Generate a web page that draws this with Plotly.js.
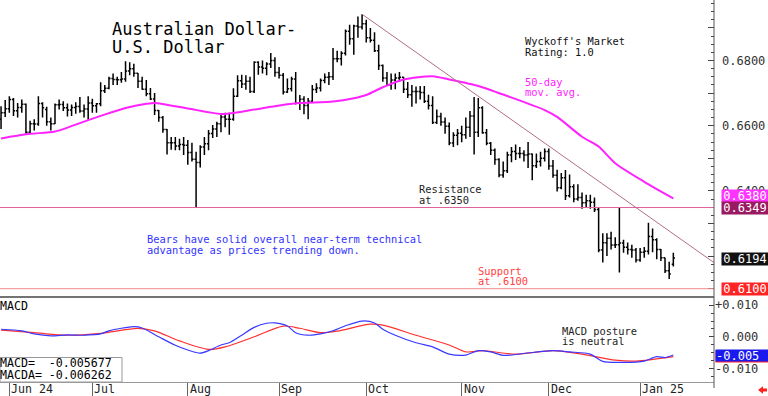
<!DOCTYPE html>
<html><head><meta charset="utf-8">
<script src="https://cdn.plot.ly/plotly-3.0.1.min.js"></script>
<style>html,body{margin:0;padding:0;background:#fff}#chart{width:768px;height:396px}</style>
</head><body><div id="chart"></div>
<script>
// ---------- daily bars (weekdays) ----------
const barDates = [
'2024-05-30','2024-05-31',
'2024-06-03','2024-06-04','2024-06-05','2024-06-06','2024-06-07','2024-06-10','2024-06-11','2024-06-12','2024-06-13','2024-06-14','2024-06-17','2024-06-18','2024-06-19','2024-06-20','2024-06-21','2024-06-24','2024-06-25','2024-06-26','2024-06-27','2024-06-28',
'2024-07-01','2024-07-02','2024-07-03','2024-07-04','2024-07-05','2024-07-08','2024-07-09','2024-07-10','2024-07-11','2024-07-12','2024-07-15','2024-07-16','2024-07-17','2024-07-18','2024-07-19','2024-07-22','2024-07-23','2024-07-24','2024-07-25','2024-07-26','2024-07-29','2024-07-30','2024-07-31',
'2024-08-01','2024-08-02','2024-08-05','2024-08-06','2024-08-07','2024-08-08','2024-08-09','2024-08-12','2024-08-13','2024-08-14','2024-08-15','2024-08-16','2024-08-19','2024-08-20','2024-08-21','2024-08-22','2024-08-23','2024-08-26','2024-08-27','2024-08-28','2024-08-29','2024-08-30',
'2024-09-02','2024-09-03','2024-09-04','2024-09-05','2024-09-06','2024-09-09','2024-09-10','2024-09-11','2024-09-12','2024-09-13','2024-09-16','2024-09-17','2024-09-18','2024-09-19','2024-09-20','2024-09-23','2024-09-24','2024-09-25','2024-09-26','2024-09-27','2024-09-30',
'2024-10-01','2024-10-02','2024-10-03','2024-10-04','2024-10-07','2024-10-08','2024-10-09','2024-10-10','2024-10-11','2024-10-14','2024-10-15','2024-10-16','2024-10-17','2024-10-18','2024-10-21','2024-10-22','2024-10-23','2024-10-24','2024-10-25','2024-10-28','2024-10-29','2024-10-30','2024-10-31',
'2024-11-01','2024-11-04','2024-11-05','2024-11-06','2024-11-07','2024-11-08','2024-11-11','2024-11-12','2024-11-13','2024-11-14','2024-11-15','2024-11-18','2024-11-19','2024-11-20','2024-11-21','2024-11-22','2024-11-25','2024-11-26','2024-11-27','2024-11-28','2024-11-29',
'2024-12-02','2024-12-03','2024-12-04','2024-12-05','2024-12-06','2024-12-09','2024-12-10','2024-12-11','2024-12-12','2024-12-13','2024-12-16','2024-12-17','2024-12-18','2024-12-19','2024-12-20','2024-12-23','2024-12-24','2024-12-25','2024-12-26','2024-12-27','2024-12-30','2024-12-31',
'2025-01-01','2025-01-02','2025-01-03','2025-01-06','2025-01-07','2025-01-08','2025-01-09','2025-01-10','2025-01-13'];

const barOpen = [
0.6620,0.6640,
0.6652,0.6680,0.6646,0.6656,0.6666,0.6580,0.6606,0.6605,0.6668,0.6650,0.6612,0.6606,0.6664,0.6665,0.6655,0.6648,0.6656,0.6659,0.6645,0.6651,
0.6670,0.6661,0.6667,0.6707,0.6715,0.6745,0.6742,0.6741,0.6743,0.6768,0.6775,0.6761,0.6736,0.6712,0.6698,0.6682,0.6647,0.6625,0.6588,0.6548,0.6548,0.6538,0.6542,
0.6540,0.6518,0.6497,0.6487,0.6535,0.6545,0.6576,0.6590,0.6606,0.6627,0.6620,0.6620,0.6690,0.6738,0.6728,0.6736,0.6705,0.6795,0.6780,0.6776,0.6789,0.6800,
0.6763,0.6755,0.6703,0.6713,0.6743,0.6670,0.6681,0.6662,0.6675,0.6711,0.6716,0.6739,0.6749,0.6750,0.6805,0.6805,0.6822,0.6890,0.6867,0.6906,0.6903,
0.6913,0.6870,0.6862,0.6830,0.6785,0.6746,0.6725,0.6740,0.6746,0.6749,0.6712,0.6695,0.6705,0.6705,0.6702,0.6675,0.6662,0.6610,0.6628,0.6611,0.6598,0.6547,0.6571,
0.6577,0.6572,0.6595,0.6630,0.6580,0.6655,0.6578,0.6546,0.6525,0.6496,0.6449,0.6462,0.6510,0.6521,0.6515,0.6515,0.6510,0.6513,0.6477,0.6490,0.6500,
0.6521,0.6476,0.6448,0.6410,0.6440,0.6385,0.6413,0.6375,0.6380,0.6364,0.6370,0.6365,0.6343,0.6219,0.6241,0.6255,0.6234,0.6235,0.6240,0.6227,0.6220,0.6219,
0.6188,0.6212,0.6215,0.6260,0.6250,0.6220,0.6195,0.6155,0.6175];

const barHigh = [
0.6660,0.6679,
0.6690,0.6685,0.6670,0.6680,0.6668,0.6615,0.6620,0.6690,0.6672,0.6658,0.6625,0.6668,0.6680,0.6675,0.6668,0.6665,0.6672,0.6688,0.6665,0.6690,
0.6683,0.6670,0.6733,0.6725,0.6750,0.6760,0.6750,0.6765,0.6798,0.6795,0.6790,0.6762,0.6750,0.6740,0.6716,0.6700,0.6648,0.6630,0.6590,0.6565,0.6565,0.6560,0.6565,
0.6556,0.6548,0.6520,0.6540,0.6565,0.6587,0.6602,0.6612,0.6633,0.6640,0.6640,0.6715,0.6755,0.6756,0.6755,0.6750,0.6798,0.6798,0.6800,0.6795,0.6823,0.6810,
0.6780,0.6762,0.6745,0.6750,0.6765,0.6694,0.6690,0.6685,0.6725,0.6730,0.6745,0.6760,0.6765,0.6838,0.6830,0.6828,0.6895,0.6910,0.6910,0.6935,0.6942,
0.6925,0.6900,0.6887,0.6848,0.6788,0.6765,0.6760,0.6760,0.6765,0.6750,0.6734,0.6725,0.6720,0.6722,0.6722,0.6695,0.6690,0.6650,0.6640,0.6625,0.6610,0.6580,0.6590,
0.6600,0.6625,0.6645,0.6688,0.6685,0.6660,0.6590,0.6550,0.6530,0.6500,0.6490,0.6520,0.6535,0.6542,0.6535,0.6525,0.6550,0.6515,0.6515,0.6520,0.6530,
0.6530,0.6495,0.6465,0.6455,0.6464,0.6450,0.6420,0.6420,0.6395,0.6388,0.6388,0.6380,0.6350,0.6270,0.6270,0.6275,0.6258,0.6350,0.6250,0.6242,0.6235,0.6225,
0.6225,0.6228,0.6302,0.6285,0.6255,0.6222,0.6195,0.6183,0.6210];

const barLow = [
0.6590,0.6627,
0.6640,0.6630,0.6625,0.6640,0.6575,0.6575,0.6585,0.6600,0.6625,0.6600,0.6585,0.6605,0.6650,0.6645,0.6628,0.6630,0.6637,0.6640,0.6625,0.6618,
0.6640,0.6640,0.6660,0.6700,0.6712,0.6725,0.6725,0.6732,0.6735,0.6755,0.6750,0.6716,0.6710,0.6690,0.6679,0.6633,0.6612,0.6578,0.6512,0.6526,0.6525,0.6525,0.6510,
0.6480,0.6490,0.6348,0.6472,0.6510,0.6525,0.6562,0.6565,0.6580,0.6595,0.6572,0.6615,0.6688,0.6716,0.6710,0.6700,0.6700,0.6756,0.6760,0.6755,0.6777,0.6750,
0.6745,0.6696,0.6700,0.6705,0.6665,0.6648,0.6635,0.6620,0.6670,0.6700,0.6705,0.6730,0.6725,0.6740,0.6795,0.6785,0.6815,0.6848,0.6818,0.6870,0.6895,
0.6855,0.6855,0.6826,0.6771,0.6735,0.6722,0.6710,0.6712,0.6735,0.6700,0.6685,0.6658,0.6668,0.6680,0.6670,0.6650,0.6605,0.6605,0.6600,0.6575,0.6540,0.6535,0.6540,
0.6549,0.6560,0.6565,0.6512,0.6565,0.6575,0.6540,0.6510,0.6480,0.6442,0.6440,0.6455,0.6488,0.6495,0.6500,0.6490,0.6470,0.6433,0.6470,0.6475,0.6490,
0.6465,0.6440,0.6398,0.6405,0.6372,0.6380,0.6365,0.6370,0.6345,0.6350,0.6345,0.6335,0.6212,0.6180,0.6200,0.6220,0.6225,0.6150,0.6210,0.6205,0.6195,0.6180,
0.6183,0.6195,0.6205,0.6212,0.6190,0.6185,0.6148,0.6130,0.6168];

const barClose = [
0.6640,0.6652,
0.6680,0.6646,0.6656,0.6666,0.6580,0.6606,0.6605,0.6668,0.6655,0.6612,0.6606,0.6664,0.6665,0.6655,0.6648,0.6656,0.6659,0.6645,0.6651,0.6670,
0.6661,0.6667,0.6707,0.6715,0.6745,0.6742,0.6741,0.6743,0.6768,0.6775,0.6761,0.6736,0.6712,0.6698,0.6682,0.6647,0.6625,0.6588,0.6548,0.6548,0.6538,0.6542,0.6540,
0.6518,0.6497,0.6487,0.6535,0.6545,0.6576,0.6590,0.6606,0.6627,0.6620,0.6620,0.6690,0.6738,0.6728,0.6736,0.6705,0.6795,0.6780,0.6776,0.6789,0.6800,0.6763,
0.6755,0.6703,0.6713,0.6743,0.6670,0.6681,0.6662,0.6675,0.6711,0.6716,0.6739,0.6749,0.6750,0.6805,0.6805,0.6822,0.6890,0.6867,0.6906,0.6903,0.6913,
0.6870,0.6862,0.6830,0.6785,0.6746,0.6725,0.6740,0.6746,0.6749,0.6712,0.6695,0.6705,0.6705,0.6702,0.6675,0.6662,0.6610,0.6628,0.6611,0.6598,0.6547,0.6571,0.6577,
0.6572,0.6595,0.6630,0.6580,0.6655,0.6578,0.6546,0.6525,0.6496,0.6449,0.6462,0.6510,0.6521,0.6515,0.6515,0.6510,0.6513,0.6477,0.6490,0.6500,0.6521,
0.6476,0.6448,0.6410,0.6440,0.6385,0.6413,0.6375,0.6380,0.6364,0.6370,0.6365,0.6343,0.6219,0.6241,0.6255,0.6234,0.6235,0.6240,0.6227,0.6220,0.6219,0.6188,
0.6212,0.6215,0.6260,0.6250,0.6220,0.6195,0.6155,0.6145,0.6194];

// ---------- 50-day moving average ----------
const maDates = ['2024-05-30','2024-06-10','2024-06-18','2024-06-28','2024-07-03','2024-07-11','2024-07-18','2024-07-22','2024-08-01','2024-08-13','2024-08-21','2024-08-29','2024-09-06','2024-09-19','2024-09-26','2024-10-01','2024-10-07','2024-10-14','2024-10-23','2024-10-29','2024-11-07','2024-11-18','2024-11-29','2024-12-04','2024-12-12','2024-12-18','2024-12-24','2025-01-02','2025-01-13'];
const maValues = [0.6561,0.6575,0.6582,0.6617,0.6630,0.6654,0.6667,0.6670,0.6653,0.6636,0.6645,0.6658,0.6669,0.6674,0.6684,0.6694,0.6718,0.6742,0.6752,0.6742,0.6722,0.6691,0.6648,0.6627,0.6566,0.6536,0.6485,0.6428,0.6377];

// ---------- MACD (blue) and signal (red) ----------
const macdDates = ['2024-05-30','2024-06-06','2024-06-11','2024-06-17','2024-06-21','2024-06-27','2024-07-03','2024-07-05','2024-07-15','2024-07-17','2024-07-23','2024-07-29','2024-08-01','2024-08-06','2024-08-08','2024-08-13','2024-08-15','2024-08-20','2024-08-23','2024-08-28','2024-08-30','2024-09-04','2024-09-06','2024-09-11','2024-09-16','2024-09-19','2024-09-24','2024-09-30','2024-10-03','2024-10-07','2024-10-10','2024-10-17','2024-10-23','2024-10-29','2024-11-04','2024-11-07','2024-11-12','2024-11-15','2024-11-22','2024-12-03','2024-12-09','2024-12-16','2024-12-19','2024-12-26','2025-01-02','2025-01-07','2025-01-09','2025-01-13'];
const macdValues = [0.0024,0.0019,0.0009,0.0003,0.0006,0.0005,0.0009,0.0019,0.0032,0.0028,0.0000,-0.0027,-0.0042,-0.0052,-0.0044,-0.0026,-0.0019,0.0005,0.0030,0.0043,0.0044,0.0034,0.0013,0.0005,0.0009,0.0019,0.0035,0.0050,0.0044,0.0024,0.0005,-0.0019,-0.0032,-0.0055,-0.0058,-0.0044,-0.0048,-0.0059,-0.0053,-0.0044,-0.0048,-0.0055,-0.0078,-0.0081,-0.0077,-0.0063,-0.0066,-0.0058];
const signalDates = ['2024-05-30','2024-06-11','2024-06-21','2024-07-03','2024-07-16','2024-07-22','2024-07-30','2024-08-08','2024-08-14','2024-08-23','2024-09-03','2024-09-09','2024-09-16','2024-09-20','2024-10-02','2024-10-07','2024-10-17','2024-10-29','2024-11-04','2024-11-08','2024-11-20','2024-12-03','2024-12-12','2024-12-24','2024-12-31','2025-01-13'];
const signalValues = [0.0021,0.0013,0.0005,0.0011,0.0027,0.0019,-0.0013,-0.0040,-0.0032,0.0000,0.0034,0.0027,0.0013,0.0018,0.0040,0.0037,0.0005,-0.0026,-0.0048,-0.0044,-0.0055,-0.0044,-0.0055,-0.0074,-0.0077,-0.0063];

// ---------- trend line, levels, ticks ----------
const trendDates = ['2024-09-30','2025-01-24 19:12'];
const trendValues = [0.6942,0.6180];
const resistanceLevel = 0.6349;
const supportLevel = 0.6100;
const monthTicks = ['2024-06-03','2024-07-01','2024-08-01','2024-09-02','2024-10-01','2024-11-01','2024-12-02','2025-01-01'];
const monthLabels = ['Jun 24','Jul','Aug','Sep','Oct','Nov','Dec','Jan 25'];
const priceTickVals = [0.61,0.62,0.63,0.64,0.65,0.66,0.67,0.68,0.69];
const priceTickText = ['','','','0.6400','','0.6600','','0.6800',''];
const macdTickVals = [-0.01,0,0.01];
const macdTickText = ['-0.010','\u00a00.000','+0.010'];
const valueBoxes = [
  {text:'0.6380', y:0.6384, color:'#ff33ff'},
  {text:'0.6349', y:0.6349, color:'#991a60'},
  {text:'0.6194', y:0.6190, color:'#111111'},
  {text:'0.6100', y:0.6100, color:'#ff2424'}
];

const MONO = 'DejaVu Sans Mono, monospace';
const PW = 714, PH = 382;
const px = x => x / PW;
const py = y => (PH - y) / PH;

const traces = [
  {type:'ohlc', x:barDates, open:barOpen, high:barHigh, low:barLow, close:barClose,
   xaxis:'x', yaxis:'y', tickwidth:0.4, hoverinfo:'skip', showlegend:false,
   increasing:{line:{color:'#000', width:1.5}}, decreasing:{line:{color:'#000', width:1.5}}},
  {type:'scatter', mode:'lines', x:maDates, y:maValues, xaxis:'x', yaxis:'y',
   line:{color:'#ff22ff', width:2, shape:'spline', smoothing:0.7}, hoverinfo:'skip', showlegend:false},
  {type:'scatter', mode:'lines', x:trendDates, y:trendValues, xaxis:'x', yaxis:'y',
   line:{color:'#b36e82', width:1}, hoverinfo:'skip', showlegend:false},
  {type:'scatter', mode:'lines', x:signalDates, y:signalValues, xaxis:'x', yaxis:'y2',
   line:{color:'#ff3030', width:1.2, shape:'spline', smoothing:0.8}, hoverinfo:'skip', showlegend:false},
  {type:'scatter', mode:'lines', x:macdDates, y:macdValues, xaxis:'x', yaxis:'y2',
   line:{color:'#3838ff', width:1.2, shape:'spline', smoothing:0.8}, hoverinfo:'skip', showlegend:false}
];

function txt(t, x, y, size, color, extra){
  return Object.assign({text:t, xref:'paper', yref:'paper', x:px(x), y:py(y), xanchor:'left', yanchor:'middle',
    showarrow:false, font:{family:MONO, size:size, color:color}}, extra||{});
}
const S = 10.4;
const annotations = [
  txt('Australian Dollar-', 110, 29, 17, '#000'),
  txt('U.S. Dollar', 110, 46.8, 17, '#000'),
  txt("Wyckoff's Market", 523, 41.2, S, '#111'),
  txt('Rating: 1.0', 523, 51.6, S, '#111'),
  txt('50-day', 523, 81.8, S, '#ff22ff'),
  txt('mov. avg.', 523, 92.3, S, '#ff22ff'),
  txt('Resistance', 417, 189, S, '#222'),
  txt('at .6350', 417, 199.6, S, '#222'),
  txt('Bears have solid overall near-term technical', 145, 239.5, S, '#3333ff'),
  txt('advantage as prices trending down.', 145, 250.3, S, '#3333ff'),
  txt('Support', 476, 270.8, S, '#ff4040'),
  txt('at .6100', 476, 281.2, S, '#ff4040'),
  txt('MACD posture', 560, 330.5, S, '#222'),
  txt('is neutral', 560, 340.8, S, '#222'),
  txt('MACD', -2, 305.8, 11.6, '#000'),
  txt('MACD=\u00a0\u00a0-0.005677', -2, 363.3, 11.6, '#000'),
  txt('MACDA=\u00a0-0.006262', -2, 375.3, 11.6, '#000')
];
monthTicks.forEach((d, i) => annotations.push({text:monthLabels[i], xref:'x', yref:'paper', x:d, y:py(389.2),
  xanchor:'left', yanchor:'middle', showarrow:false, xshift:0, font:{family:MONO, size:11.6, color:'#222'}}));
valueBoxes.forEach(b => annotations.push({text:b.text, xref:'paper', yref:'y', x:1, xshift:7, y:b.y,
  xanchor:'left', yanchor:'middle', showarrow:false, bgcolor:b.color, borderpad:0, width:46, height:11.5,
  font:{family:MONO, size:12, color:'#fff'}}));
annotations.push({text:'', xref:'paper', yref:'y2', x:1, xshift:1, y:-0.0064, xanchor:'left', yanchor:'middle',
  showarrow:false, bgcolor:'#ff2424', borderpad:0, width:52, height:11, font:{family:MONO, size:12, color:'#fff'}});
annotations.push({text:'-0.005', xref:'paper', yref:'y2', x:1, xshift:1, y:-0.0059, xanchor:'left', yanchor:'middle',
  showarrow:false, bgcolor:'#1a1aee', borderpad:0, width:52, height:11, align:'left', font:{family:MONO, size:12, color:'#fff'}});

const shapes = [
  {type:'line', xref:'paper', yref:'y', x0:0, x1:1, y0:resistanceLevel, y1:resistanceLevel, line:{color:'#e0609c', width:1}},
  {type:'line', xref:'paper', yref:'y', x0:0, x1:1, y0:supportLevel, y1:supportLevel, line:{color:'#f58a8a', width:1}},
  {type:'line', xref:'paper', yref:'paper', x0:0, x1:1, y0:85/382, y1:85/382, line:{color:'#444', width:1.6}},
  {type:'line', xref:'paper', yref:'paper', x0:1, x1:1, y0:py(388), y1:1, line:{color:'#555', width:1}},
  {type:'rect', xref:'paper', yref:'paper', x0:px(0), x1:px(122), y0:py(382), y1:py(357.5), fillcolor:'#fff', line:{color:'#999', width:1}},
  {type:'path', xref:'paper', yref:'paper', fillcolor:'#ff2020', line:{width:0},
   path:`M ${px(758)} ${py(390)} L ${px(763)} ${py(386.3)} L ${px(763)} ${py(388.6)} L ${px(767)} ${py(388.6)} L ${px(767)} ${py(391.4)} L ${px(763)} ${py(391.4)} L ${px(763)} ${py(393.7)} Z`}
];

const layout = {
  width:768, height:396, autosize:false,
  margin:{l:0, r:54, t:0, b:14, pad:0},
  paper_bgcolor:'#fff', plot_bgcolor:'#fff',
  showlegend:false, dragmode:false,
  font:{family:MONO, size:12, color:'#333'},
  xaxis:{type:'date', range:['2024-05-29 18:00','2025-01-24 19:12'],
    rangebreaks:[{bounds:['sat','mon']}], rangeslider:{visible:false},
    anchor:'y2', showgrid:false, zeroline:false, showline:true, linecolor:'#999', linewidth:1,
    ticks:'outside', ticklen:14, tickwidth:1, tickcolor:'#666',
    tickmode:'array', tickvals:monthTicks, showticklabels:false, fixedrange:true},
  yaxis:{domain:[85/382, 1], range:[0.60745, 0.69856], side:'right', anchor:'x',
    showgrid:false, zeroline:false, showline:false,
    ticks:'inside', ticklen:6, tickcolor:'#444', tickwidth:1,
    tickmode:'array', tickvals:priceTickVals, ticktext:priceTickText,
    tickfont:{family:MONO, size:12, color:'#333'}, ticklabelstandoff:7,
    minor:{tickmode:'linear', tick0:0.6, dtick:0.0025, ticks:'inside', ticklen:3, tickcolor:'#444'},
    fixedrange:true},
  yaxis2:{domain:[0, 85/382], range:[-0.01435, 0.01263], side:'right', anchor:'x',
    showgrid:false, zeroline:false, showline:false,
    ticks:'inside', ticklen:5, tickcolor:'#444', tickwidth:1,
    tickmode:'array', tickvals:macdTickVals, ticktext:macdTickText,
    tickfont:{family:MONO, size:12, color:'#333'}, ticklabelstandoff:0,
    minor:{tickmode:'linear', tick0:0, dtick:0.0025, ticks:'inside', ticklen:3, tickcolor:'#444'},
    fixedrange:true},
  shapes:shapes,
  annotations:annotations
};

Plotly.newPlot('chart', traces, layout, {displayModeBar:false, staticPlot:true});
</script>
</body></html>
